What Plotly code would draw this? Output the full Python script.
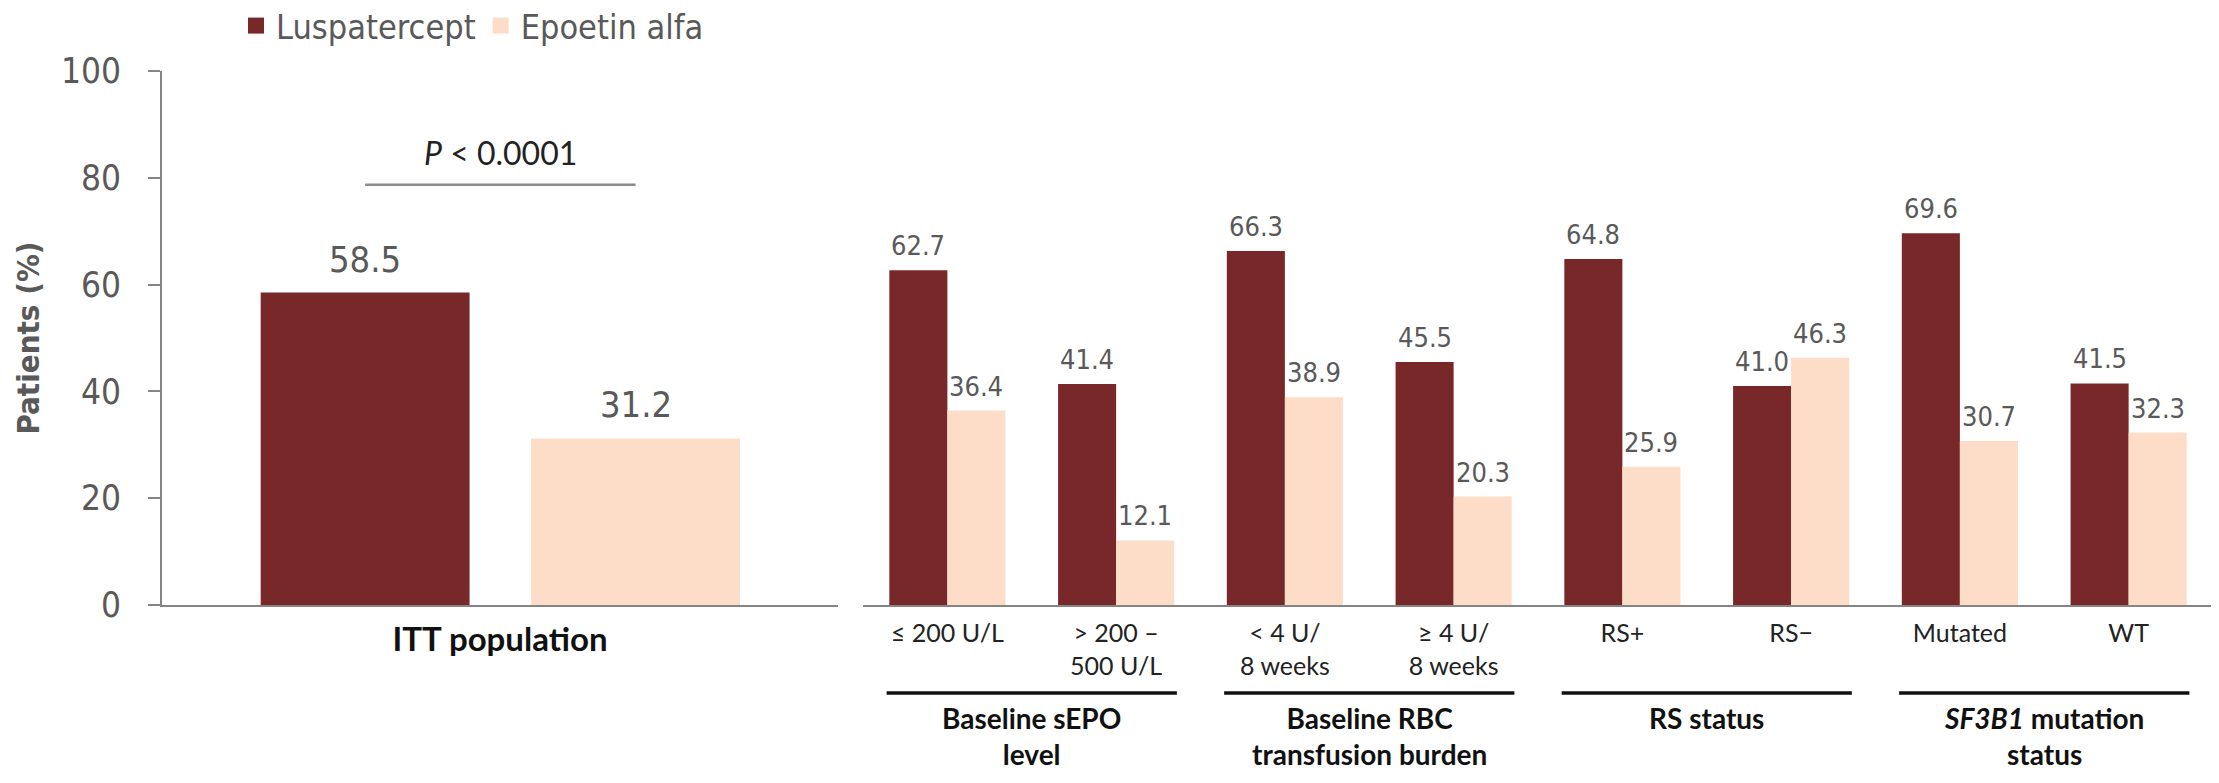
import plotly.graph_objects as go

# ---------------- data ----------------
itt_category = ["ITT population"]
itt_luspatercept = [58.5]
itt_epoetin = [31.2]

sub_categories = ["≤ 200 U/L", "&gt; 200 –<br>500 U/L", "&lt; 4 U/<br>8 weeks", "≥ 4 U/<br>8 weeks",
                  "RS+", "RS−", "Mutated", "WT"]
sub_luspatercept = [62.7, 41.4, 66.3, 45.5, 64.8, 41.0, 69.6, 41.5]
sub_epoetin = [36.4, 12.1, 38.9, 20.3, 25.9, 46.3, 30.7, 32.3]

group_labels = ["Baseline sEPO<br>level", "Baseline RBC<br>transfusion burden",
                "RS status", "<i>SF3B1</i> mutation<br>status"]
series_names = ["Luspatercept", "Epoetin alfa"]
p_value_text = "<i>P</i> &lt; 0.0001"
y_ticks = [0, 20, 40, 60, 80, 100]

# ---------------- style ----------------
PAGE_W, PAGE_H = 2219, 783
BODY = 8  # default page body margin
W, H = PAGE_W - BODY, PAGE_H - BODY
DARK = "#782828"
LIGHT = "#FDDCC8"
GRAY_TXT = "#595959"
AXIS_GRAY = "#858585"
COND = "DejaVu Sans Condensed, Roboto Condensed, Liberation Sans Narrow, Roboto, sans-serif"
LABEL = "Lato, Carlito, Calibri, Open Sans, sans-serif"


def px_x(p):
    return (p - BODY) / W


def px_y(p):
    return (PAGE_H - p) / H


# bar geometry (in category units)
L_W = 0.309
L_OFF = [-0.354, 0.046]
R_W = 0.344
R_OFF = [-0.344, 0.0]

fig = go.Figure()

# left panel bars
for k, (name, vals, col) in enumerate(zip(series_names, [itt_luspatercept, itt_epoetin], [DARK, LIGHT])):
    fig.add_trace(go.Bar(x=itt_category, y=vals, name=name, marker=dict(color=col, line=dict(width=0)),
                         width=L_W, offset=L_OFF[k], xaxis="x", yaxis="y", showlegend=False,
                         legendgroup=name))

# right panel bars
for k, (name, vals, col) in enumerate(zip(series_names, [sub_luspatercept, sub_epoetin], [DARK, LIGHT])):
    fig.add_trace(go.Bar(x=sub_categories, y=vals, name=name, marker=dict(color=col, line=dict(width=0)),
                         width=R_W, offset=R_OFF[k], xaxis="x2", yaxis="y2", showlegend=False,
                         legendgroup=name))

# legend entries (square swatches)
for name, col in zip(series_names, [DARK, LIGHT]):
    fig.add_trace(go.Scatter(x=[None], y=[None], mode="markers", name=name, legendgroup=name,
                             marker=dict(symbol="square", size=18, color=col), xaxis="x", yaxis="y",
                             showlegend=True, hoverinfo="skip"))

annotations = []
# value labels - left
for k, vals in enumerate([itt_luspatercept, itt_epoetin]):
    for i, v in enumerate(vals):
        annotations.append(dict(x=i + L_OFF[k] + L_W / 2, y=v, xref="x", yref="y", text=f"{v:.1f}",
                                showarrow=False, yanchor="bottom", yshift=11,
                                font=dict(family=COND, size=36, color=GRAY_TXT)))
# value labels - right
for k, vals in enumerate([sub_luspatercept, sub_epoetin]):
    for i, v in enumerate(vals):
        annotations.append(dict(x=i + R_OFF[k] + R_W / 2, y=v, xref="x2", yref="y2", text=f"{v:.1f}",
                                showarrow=False, yanchor="bottom", yshift=7,
                                font=dict(family=COND, size=27, color=GRAY_TXT)))

# p-value
P_LINE_Y = 78.7
P_TEXT_Y = 84.8
annotations.append(dict(x=0, y=P_TEXT_Y, xref="x", yref="y", text=p_value_text, showarrow=False,
                        yanchor="middle", font=dict(family=LABEL, size=32, color="#222222")))

shapes = [dict(type="line", xref="x", yref="y", x0=L_OFF[0] + L_W / 2, x1=L_OFF[1] + L_W / 2,
               y0=P_LINE_Y, y1=P_LINE_Y, line=dict(color="#8c8c8c", width=2.5))]

# group underlines and labels
for g, lab in enumerate(group_labels):
    shapes.append(dict(type="line", xref="x2", yref="paper", x0=2 * g - 0.36, x1=2 * g + 1 + 0.36,
                       y0=px_y(693), y1=px_y(693), line=dict(color="#111111", width=3.5)))
    annotations.append(dict(x=2 * g + 0.5, y=px_y(699), xref="x2", yref="paper", text=lab,
                            showarrow=False, yanchor="top", align="center",
                            font=dict(family=LABEL, size=28, color="#111111", weight="bold")))

ydom = [px_y(605), px_y(71)]

fig.update_layout(
    width=W, height=H, autosize=False,
    margin=dict(l=0, r=0, t=0, b=0, autoexpand=False),
    paper_bgcolor="white", plot_bgcolor="white",
    barmode="overlay",
    showlegend=True,
    legend=dict(orientation="h", x=px_x(236), y=px_y(-3), xanchor="left", yanchor="top",
                font=dict(family=COND, size=34, color=GRAY_TXT), bgcolor="rgba(0,0,0,0)",
                itemsizing="trace", tracegroupgap=0),
    xaxis=dict(domain=[px_x(162), px_x(838)], range=[-0.5, 0.5], type="category",
               showline=True, linecolor=AXIS_GRAY, linewidth=2, showgrid=False, zeroline=False,
               ticks="", ticklabelstandoff=4,
               tickfont=dict(family=LABEL, size=33, color="#111111", weight="bold")),
    yaxis=dict(domain=ydom, range=[0, 100], tickvals=y_ticks, showline=True, linecolor=AXIS_GRAY,
               linewidth=2, ticks="outside", ticklen=12, tickwidth=2, tickcolor=AXIS_GRAY,
               showgrid=False, zeroline=False, ticklabelstandoff=20,
               tickfont=dict(family=COND, size=35, color=GRAY_TXT),
               title=dict(text="Patients (%)", standoff=12,
                          font=dict(family=COND, size=31, color=GRAY_TXT, weight="bold"))),
    xaxis2=dict(domain=[px_x(863), px_x(2213)], range=[-0.5, 7.5], type="category", anchor="y2",
                showline=True, linecolor=AXIS_GRAY, linewidth=2, showgrid=False, zeroline=False,
                ticks="", ticklabelstandoff=5,
                tickfont=dict(family=LABEL, size=25, color="#222222")),
    yaxis2=dict(domain=ydom, range=[0, 100], anchor="x2", visible=False, showgrid=False, zeroline=False),
    annotations=annotations,
    shapes=shapes,
)

fig.write_html("out.html")
